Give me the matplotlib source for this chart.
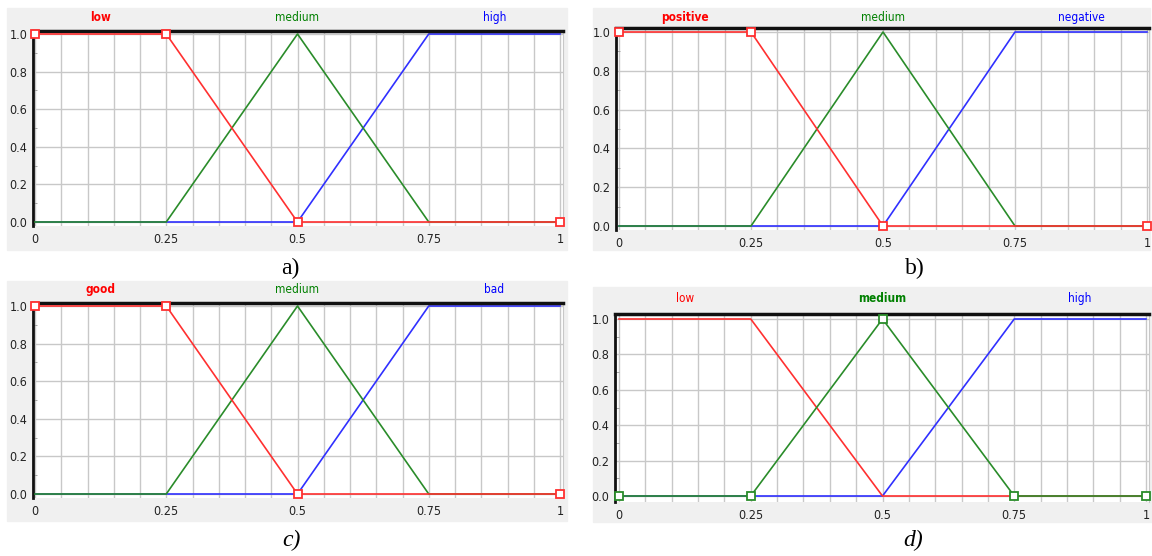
import matplotlib
matplotlib.use("Agg")
import matplotlib.pyplot as plt
from matplotlib.patches import Rectangle

W, H = 1152, 556

# membership functions (same shapes in all four panels)
low_x = [0, 0.25, 0.5, 1]
low_y = [1, 1, 0, 0]
med_x = [0, 0.25, 0.5, 0.75, 1]
med_y = [0, 0, 1, 0, 0]
high_x = [0, 0.5, 0.75, 1]
high_y = [0, 0, 1, 1]

names_a = ["low", "medium", "high"]
names_b = ["positive", "medium", "negative"]
names_c = ["good", "medium", "bad"]
names_d = ["low", "medium", "high"]
name_pos = [0.125, 0.5, 0.875]

x_ticks = [0, 0.25, 0.5, 0.75, 1]
x_labels = ["0", "0.25", "0.5", "0.75", "1"]
y_ticks = [0, 0.2, 0.4, 0.6, 0.8, 1.0]
y_labels = ["0.0", "0.2", "0.4", "0.6", "0.8", "1.0"]
x_grid = [i * 0.05 for i in range(21)]
y_minor = [0.1, 0.3, 0.5, 0.7, 0.9]

LINE_COL = ["#ff3030", "#2a8c2a", "#3030ff"]
TEXT_COL = ["#ff0000", "#008000", "#0000ff"]
GRAY_BG = "#f0f0f0"
GRID = "#c8c8c8"
TICK_FONT = "DejaVu Sans"

fig = plt.figure(figsize=(W / 100, H / 100), dpi=100)


def panel(bg, box, zero_one, names, sel, caption, cap_xy, italic, name_off):
    # gray window background
    bx0, by0, bx1, by1 = bg
    fig.patches.append(Rectangle((bx0 / W, 1 - by1 / H), (bx1 - bx0) / W, (by1 - by0) / H,
                                 transform=fig.transFigure, color=GRAY_BG, zorder=-10))
    left, top, right, bottom = box
    x0, x1, y1, y0 = zero_one
    ax = fig.add_axes([left / W, 1 - bottom / H, (right - left) / W, (bottom - top) / H])
    ax.set_zorder(1)
    ax.set_xlim((left - x0) / (x1 - x0), (right - x0) / (x1 - x0))
    ax.set_ylim((y0 - bottom) / (y0 - y1), (y0 - top) / (y0 - y1))

    ax.set_xticks(x_ticks)
    ax.set_xticklabels(x_labels)
    ax.set_xticks(x_grid, minor=True)
    ax.set_yticks(y_ticks)
    ax.set_yticklabels(y_labels)
    ax.set_yticks(y_minor, minor=True)
    ax.grid(True, which="major", color=GRID, lw=1)
    ax.grid(True, which="minor", axis="x", color=GRID, lw=1)
    ax.tick_params(axis="x", which="both", length=0, pad=5, labelsize=9, labelcolor="#222222")
    ax.tick_params(axis="y", which="major", length=0, pad=4, labelsize=9, labelcolor="#222222")
    ax.tick_params(axis="y", which="minor", direction="in", length=3, color="#999999")
    for lab in ax.get_xticklabels() + ax.get_yticklabels():
        lab.set_family(TICK_FONT)
        lab.set_fontstretch("condensed")

    ax.spines["top"].set_linewidth(2.5)
    ax.spines["top"].set_color("#111111")
    ax.spines["left"].set_linewidth(2)
    ax.spines["left"].set_color("#111111")
    ax.spines["bottom"].set_visible(False)
    ax.spines["right"].set_color(GRID)

    series = [(low_x, low_y), (med_x, med_y), (high_x, high_y)]
    z = [3, 3, 2]
    z[sel] = 4
    for i, (xs, ys) in enumerate(series):
        ax.plot(xs, ys, color=LINE_COL[i], lw=1.2, zorder=z[i], clip_on=False)
    xs, ys = series[sel]
    ax.plot(xs, ys, ls="none", marker="s", ms=6, mfc="white", mec=LINE_COL[sel],
            mew=1.3, zorder=5, clip_on=False)

    for i, name in enumerate(names):
        ax.annotate(name, xy=(name_pos[i], 1), xycoords=("data", "axes fraction"),
                    xytext=(0, name_off), textcoords="offset points", ha="center", va="center",
                    color=TEXT_COL[i], fontsize=8.5, family=TICK_FONT, fontstretch="condensed",
                    fontweight="bold" if i == sel else "normal")

    fig.text(cap_xy[0] / W, 1 - cap_xy[1] / H, caption, ha="center", va="center",
             fontsize=17, family="Liberation Serif", style="italic" if italic else "normal")


panel((7, 8, 567, 250), (33, 31, 563, 226), (35, 560, 34, 222), names_a, 0, "a)", (290, 268), False, 10)
panel((593, 8, 1150, 250), (616, 28, 1149, 230), (619, 1147, 32, 226), names_b, 0, "b)", (915, 268), False, 7.5)
panel((7, 281, 567, 521), (33, 303, 563, 498), (35, 560, 306, 494), names_c, 0, "c)", (291, 540), True, 10)
panel((593, 287, 1152, 522), (615, 314, 1149, 502), (619, 1146, 319, 496), names_d, 1, "d)", (913, 540), True, 11)

fig.savefig("out.png", dpi=100)
